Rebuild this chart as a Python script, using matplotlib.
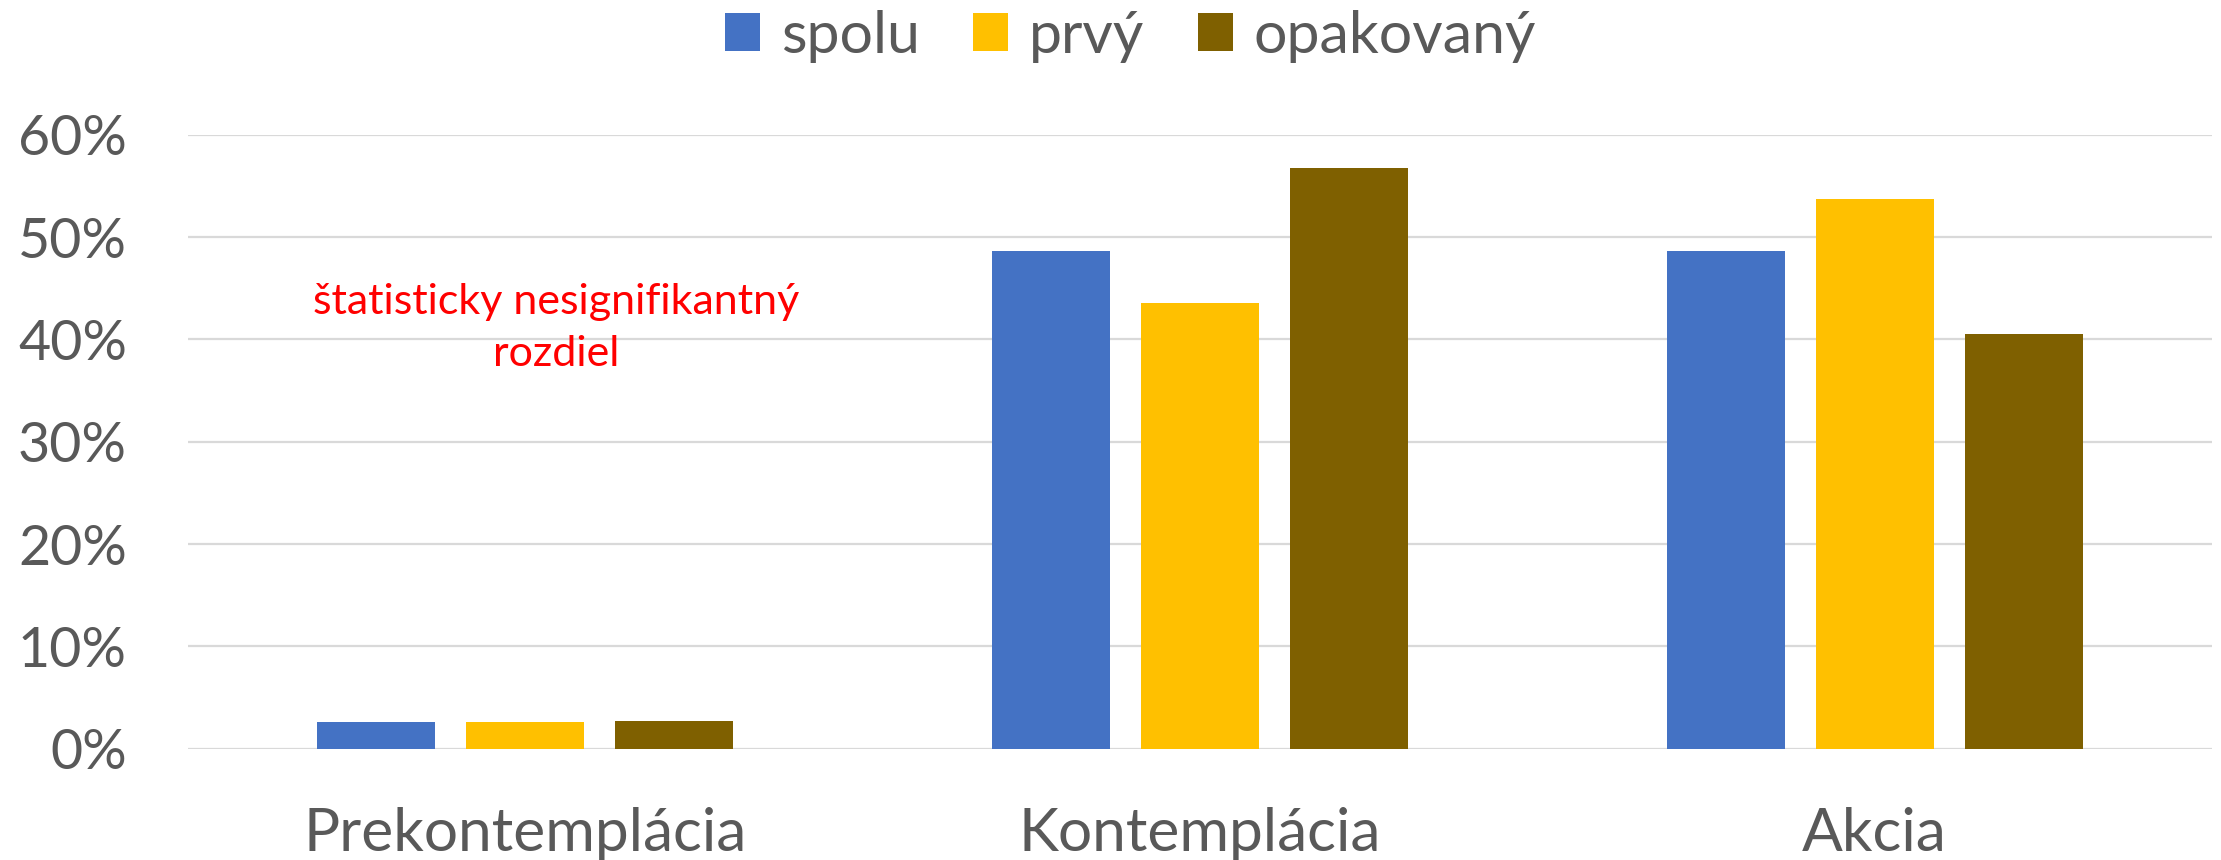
import numpy as np
import matplotlib
matplotlib.use('Agg')
import matplotlib.pyplot as plt
from matplotlib.ticker import PercentFormatter

plt.rcParams['font.family'] = ['Lato', 'DejaVu Sans']

categories = ['Prekontemplácia', 'Kontemplácia', 'Akcia']
series_names = ['spolu', 'prvý', 'opakovaný']
spolu = [2.6, 48.6, 48.6]
prvy = [2.6, 43.6, 53.7]
opakovany = [2.7, 56.7, 40.5]
colors = ['#4472C4', '#FFC000', '#7F6000']
text_gray = '#595959'

fig = plt.figure(figsize=(22.21, 8.6), dpi=100)
ax = fig.add_axes([188 / 2221, 1 - 748.7 / 860, 2024 / 2221, 614 / 860])

x = np.arange(len(categories))
width = 0.175
step = 0.221
for i, (vals, name) in enumerate(zip([spolu, prvy, opakovany], series_names)):
    ax.bar(x + (i - 1) * step, vals, width, color=colors[i], label=name, zorder=3)

ax.set_xlim(-0.5, 2.5)
ax.set_ylim(0, 60)
ax.set_yticks(range(0, 61, 10))
ax.yaxis.set_major_formatter(PercentFormatter(decimals=0))
ax.set_xticks(x)
ax.set_xticklabels(categories, va='baseline')
ax.grid(axis='y', color='#D9D9D9', linewidth=1.6, zorder=0)
ax.tick_params(axis='y', length=0, pad=44, labelsize=40, labelcolor=text_gray)
ax.tick_params(axis='x', length=0, pad=73.5, labelsize=43.5, labelcolor=text_gray)
for s in ax.spines.values():
    s.set_visible(False)

ax.text(0.046, 41.1, 'štatisticky nesignifikantný\nrozdiel', color='red', fontsize=31,
        ha='center', va='center', linespacing=1.43)

fig.legend(loc='center', bbox_to_anchor=(0.509, 0.958), ncol=3, frameon=False,
           fontsize=42.5, labelcolor=text_gray, handlelength=0.6, handleheight=0.6,
           handletextpad=0.35, columnspacing=0.9)

fig.savefig('out.png', dpi=100)
